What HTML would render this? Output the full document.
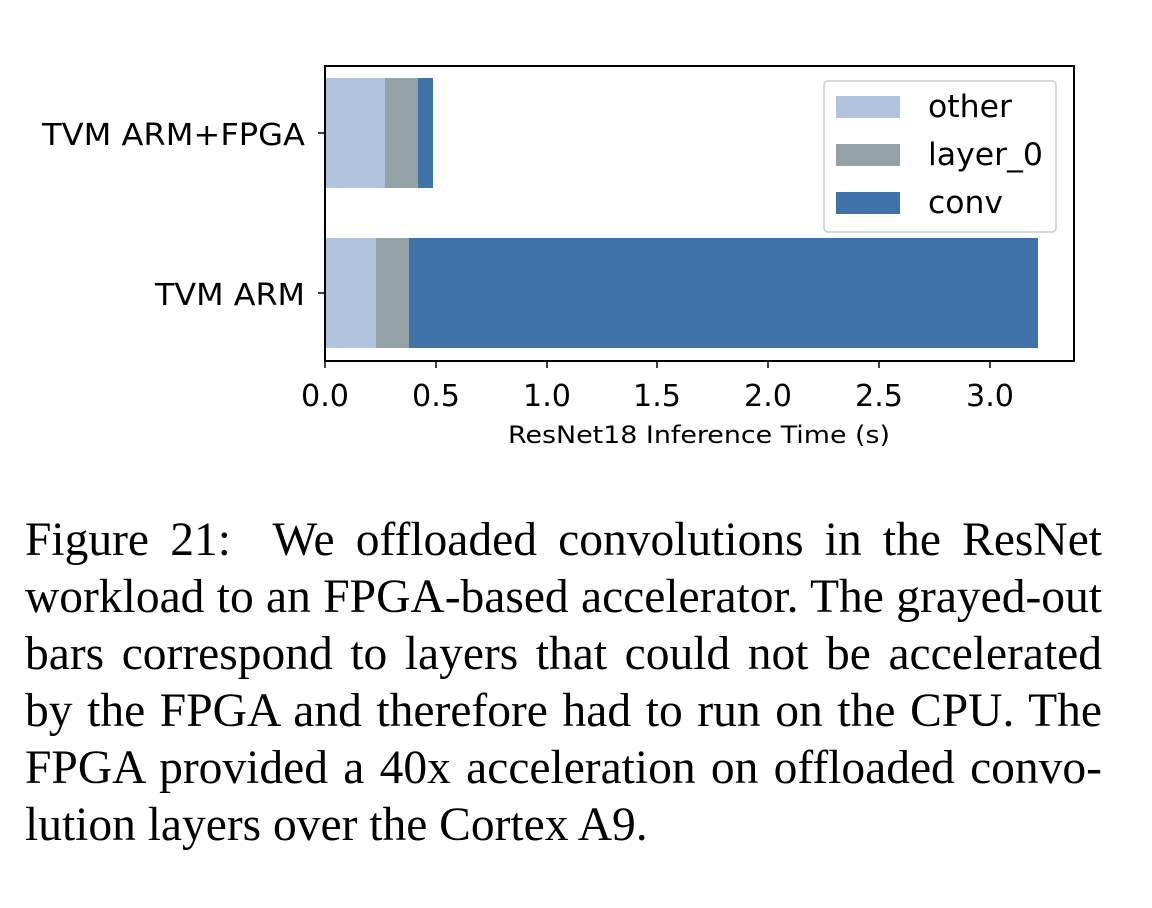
<!DOCTYPE html>
<html><head><meta charset="utf-8"><style>
body{margin:0;width:1152px;height:908px;background:#fff;position:relative;overflow:hidden}
.cap{position:absolute;left:25px;width:1077px;font-family:"Liberation Serif",serif;font-size:47.5px;line-height:57px;top:512px;color:#000}
.cap div{text-align:justify;text-align-last:justify;white-space:nowrap;height:57px}
.cap div.last{text-align-last:left}
</style></head><body>
<svg width="1152" height="480" style="position:absolute;left:0;top:0" font-family="DejaVu Sans, Liberation Sans, sans-serif">
<rect x="325" y="78" width="60" height="110" fill="#b0c4de"/>
<rect x="385" y="78" width="33" height="110" fill="#95a3a6"/>
<rect x="418" y="78" width="15" height="110" fill="#3e72a8"/>
<rect x="325" y="238" width="51" height="110" fill="#b0c4de"/>
<rect x="376" y="238" width="33" height="110" fill="#95a3a6"/>
<rect x="409" y="238" width="629" height="110" fill="#3e72a8"/>
<rect x="325" y="66" width="749" height="295" fill="none" stroke="#000" stroke-width="2"/>
<g stroke="#000" stroke-width="1.5">
<line x1="325" y1="361" x2="325" y2="368"/><line x1="436" y1="361" x2="436" y2="368"/><line x1="547" y1="361" x2="547" y2="368"/><line x1="657" y1="361" x2="657" y2="368"/><line x1="768" y1="361" x2="768" y2="368"/><line x1="879" y1="361" x2="879" y2="368"/><line x1="990" y1="361" x2="990" y2="368"/>
<line x1="318" y1="133" x2="325" y2="133"/><line x1="318" y1="293" x2="325" y2="293"/>
</g>
<g font-size="30" text-anchor="middle" fill="#000">
<text x="325" y="406" textLength="48" lengthAdjust="spacingAndGlyphs">0.0</text><text x="436" y="406" textLength="48" lengthAdjust="spacingAndGlyphs">0.5</text><text x="547" y="406" textLength="48" lengthAdjust="spacingAndGlyphs">1.0</text><text x="657" y="406" textLength="48" lengthAdjust="spacingAndGlyphs">1.5</text><text x="768" y="406" textLength="48" lengthAdjust="spacingAndGlyphs">2.0</text><text x="879" y="406" textLength="48" lengthAdjust="spacingAndGlyphs">2.5</text><text x="990" y="406" textLength="48" lengthAdjust="spacingAndGlyphs">3.0</text>
</g>
<g font-size="30" fill="#000">
<text x="42" y="145" textLength="263" lengthAdjust="spacingAndGlyphs">TVM ARM+FPGA</text><text x="155" y="305" textLength="150" lengthAdjust="spacingAndGlyphs">TVM ARM</text>
</g>
<text x="508" y="443" font-size="24" textLength="382" lengthAdjust="spacingAndGlyphs">ResNet18 Inference Time (s)</text>
<rect x="824" y="81" width="232" height="151" rx="4" fill="#fff" stroke="#ccc" stroke-width="1.5"/>
<rect x="836" y="96" width="64" height="22" fill="#b0c4de"/>
<rect x="836" y="144" width="64" height="22" fill="#95a3a6"/>
<rect x="836" y="192" width="64" height="22" fill="#3e72a8"/>
<g font-size="31" fill="#000">
<text x="928" y="117" textLength="84" lengthAdjust="spacingAndGlyphs">other</text><text x="928" y="165" textLength="115" lengthAdjust="spacingAndGlyphs">layer_0</text><text x="928" y="213" textLength="75" lengthAdjust="spacingAndGlyphs">conv</text>
</g>
</svg>
<div class="cap">
<div>Figure 21:&nbsp; We offloaded convolutions in the ResNet</div>
<div>workload to an FPGA-based accelerator. The grayed-out</div>
<div>bars correspond to layers that could not be accelerated</div>
<div>by the FPGA and therefore had to run on the CPU. The</div>
<div>FPGA provided a 40x acceleration on offloaded convo-</div>
<div class="last">lution layers over the Cortex A9.</div>
</div>
</body></html>
